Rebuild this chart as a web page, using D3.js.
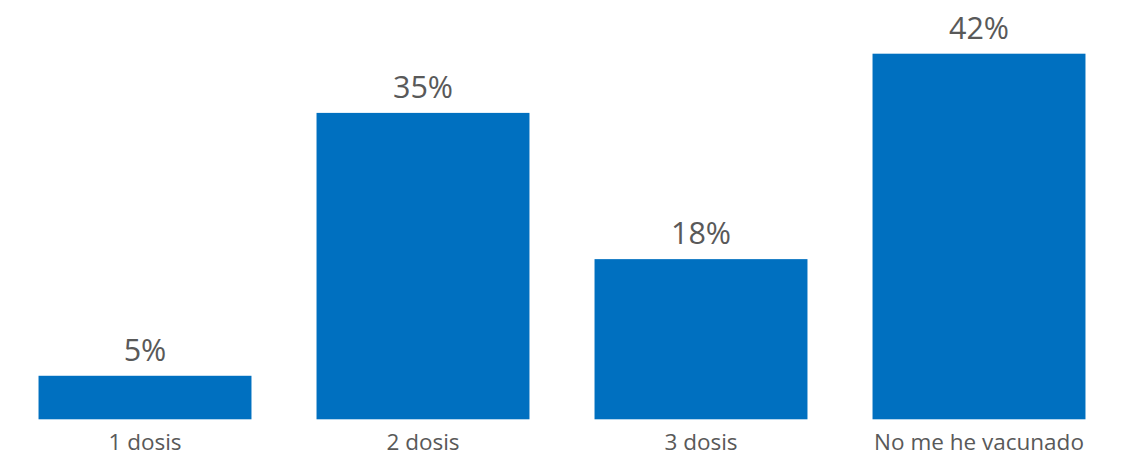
<!DOCTYPE html>
<html>
<head>
<meta charset="utf-8">
<script src="https://d3js.org/d3.v7.min.js"></script>
<style>
  body { margin: 0; background: #fff; }
  svg text { font-family: "Open Sans", sans-serif; fill: #595959; }
</style>
</head>
<body>
<svg id="chart" width="1127" height="457"></svg>
<script>
// data
var categories = ["1 dosis", "2 dosis", "3 dosis", "No me he vacunado"];
var values = [5.0, 35.2, 18.4, 42.0];

var WIDTH = 1127, HEIGHT = 457;
var BASE = 419.3, TOP = 53.7;

var svg = d3.select("#chart");

var xScale = d3.scaleBand()
	.domain(categories)
	.range([6, 1118])
	.paddingInner(0.234)
	.paddingOuter(0.117);

var yScale = d3.scaleLinear()
	.domain([0, 42])
	.range([BASE, TOP]);

var fmt = d3.format(".0f");

var rows = categories.map(function(c, i) { return { cat: c, val: values[i] }; });

svg.selectAll("rect.bar").data(rows).enter().append("rect")
	.attr("class", "bar")
	.attr("x", function(d) { return xScale(d.cat); })
	.attr("width", xScale.bandwidth())
	.attr("y", function(d) { return yScale(d.val); })
	.attr("height", function(d) { return BASE - yScale(d.val); })
	.attr("fill", "#0070C0");

// value labels above bars
svg.selectAll("text.val").data(rows).enter().append("text")
	.attr("class", "val")
	.attr("text-anchor", "middle")
	.attr("x", function(d) { return xScale(d.cat) + xScale.bandwidth() / 2; })
	.attr("y", function(d) { return yScale(d.val) - 15; })
	.style("font-size", "30.5px")
	.text(function(d) { return fmt(d.val) + "%"; });

// category axis, no line or ticks
var xAxis = d3.axisBottom(xScale).tickSize(0).tickPadding(0);
var gx = svg.append("g")
	.attr("transform", "translate(0," + BASE + ")")
	.call(xAxis);
gx.select(".domain").remove();
gx.selectAll("text")
	.attr("dy", null)
	.attr("y", 31)
	.style("font-size", "22.5px")
	.style("font-family", "'Open Sans', sans-serif")
	.attr("fill", "#595959");
</script>
</body>
</html>
